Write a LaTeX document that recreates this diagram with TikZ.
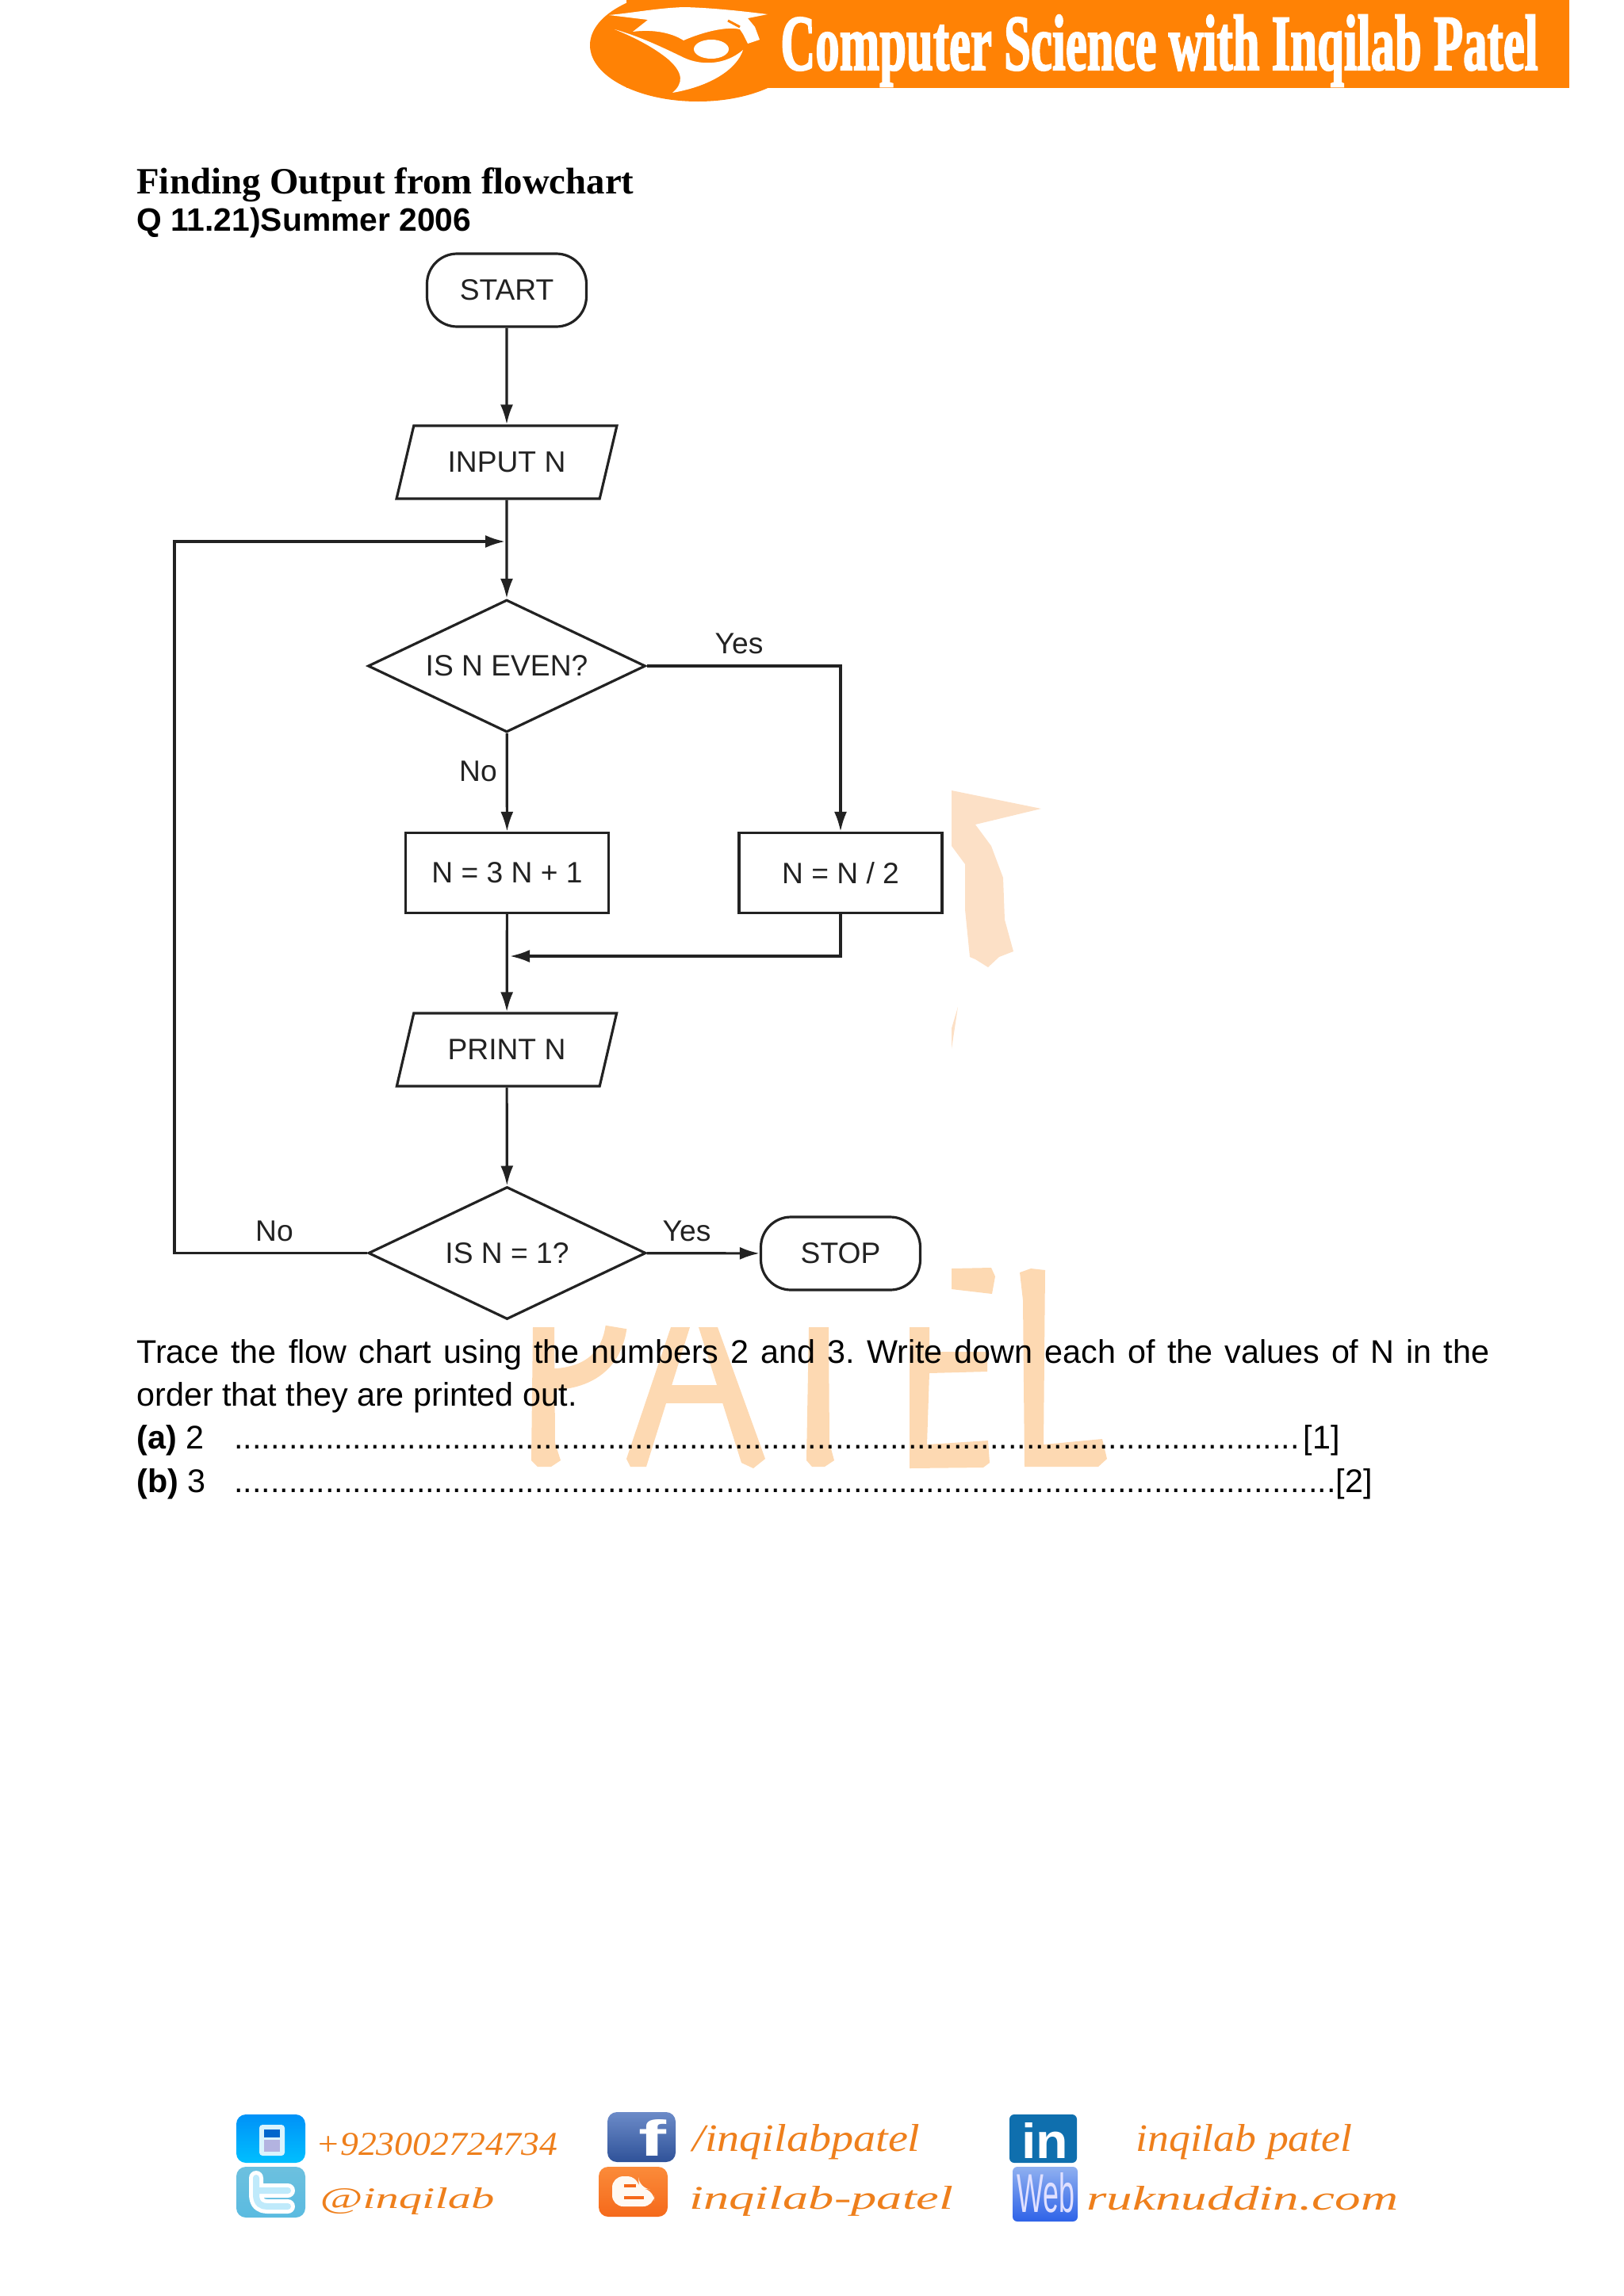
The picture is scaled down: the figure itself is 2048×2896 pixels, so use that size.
\documentclass[tikz,border=0pt]{standalone}
\usepackage{fontspec}
\setmainfont{Liberation Sans}
\newfontfamily\headfont{Liberation Serif}
\newfontfamily\bannerfont[BoldFeatures={FakeBold=2.5}]{Liberation Serif}
\usetikzlibrary{arrows.meta,shapes.geometric}
\definecolor{bannerorange}{HTML}{FF8205}
\definecolor{washorange}{HTML}{FDD9B2}
\definecolor{washpale}{HTML}{FCE0C6}
\definecolor{footorange}{HTML}{EE7F1C}
\definecolor{chartink}{HTML}{222222}
\definecolor{birdtile}{HTML}{5ABBE0}
\definecolor{birdtop}{HTML}{6CC0DF}
\definecolor{booktop}{HTML}{6C8BC8}
\definecolor{bookend}{HTML}{2F5299}
\definecolor{blogtop}{HTML}{FB8B3A}
\definecolor{blogend}{HTML}{F5691A}
\definecolor{linktile}{HTML}{0F6FAE}
\definecolor{webtop}{HTML}{8FB0F0}
\definecolor{webend}{HTML}{2E62E8}
\tikzstyle{chart}=[draw=chartink,line width=1.6pt,text=chartink,font=\fontsize{18.6}{21}\selectfont,inner sep=0pt]
\tikzstyle{terminal}=[chart,rectangle,rounded corners=19pt,minimum width=100.5pt,minimum height=46pt]
\tikzstyle{inout}=[chart,trapezium,trapezium left angle=62,trapezium right angle=118,trapezium stretches=true,minimum width=139.5pt,minimum height=46pt]
\tikzstyle{decision}=[chart,diamond,aspect=2.1,minimum width=175pt,minimum height=83.5pt]
\tikzstyle{process}=[chart,rectangle,minimum width=128pt,minimum height=50.5pt]
\tikzstyle{caption}=[text=chartink,font=\fontsize{18.6}{21}\selectfont,inner sep=0pt]
\tikzstyle{edge}=[draw=chartink,line width=1.6pt,-{Latex[length=12.5pt,width=8pt]}]
\tikzstyle{body}=[anchor=base west,inner sep=0pt,font=\frenchspacing\fontsize{20.65}{25}\selectfont]
\tikzstyle{footlabel}=[anchor=base west,inner sep=0pt,text=footorange,font=\headfont\itshape]
\tikzstyle{tile}=[rounded corners=6pt]

\begin{document}
\begin{tikzpicture}[x=0.5pt,y=-0.5pt]
    \useasboundingbox (0,0) rectangle (2048,2896);

    % Watermark letters behind the text
    \fill[washpale] (1200,997) -- (1313,1020) -- (1230,1040) -- (1250,1067) -- (1265,1107) -- (1267,1160) -- (1278,1200) -- (1260,1207) -- (1246,1220) -- (1230,1210) -- (1223,1207) -- (1217,1147) -- (1217,1090) -- (1200,1067) -- cycle;
    \fill[washpale] (1208,1270) -- (1200,1323) -- (1200,1297) -- cycle;
    \begin{scope}[washorange]
        % P
        \fill (672,1674) -- (699,1674) -- (700,1820) -- (707,1842) -- (695,1850) -- (678,1850) -- (670,1842) -- cycle;
        \draw[line width=13.5pt] (777,1674) .. controls (770,1722) and (735,1740) .. (690,1740);
        % A
        \fill (846,1674) -- (870,1674) -- (815,1850) -- (795,1850) -- (790,1840) -- cycle;
        \fill (881,1674) -- (905,1674) -- (965,1840) -- (950,1852) -- (935,1845) -- cycle;
        \fill (837,1747) rectangle (917,1770);
        % T
        \fill (1020,1674) -- (1045,1674) -- (1046,1820) -- (1052,1842) -- (1040,1850) -- (1024,1850) -- (1017,1842) -- cycle;
        % E
        \fill (1147,1674) -- (1172,1674) -- (1172,1705) -- (1245,1705) -- (1245,1730) -- (1172,1732) -- (1169,1822) -- (1246,1817) -- (1248,1845) -- (1240,1851) -- (1147,1852) -- cycle;
        \fill (1200,1600) -- (1250,1599) -- (1255,1610) -- (1251,1632) -- (1200,1626) -- cycle;
        % L
        \fill (1286,1605) -- (1300,1600) -- (1318,1602) -- (1316,1822) -- (1390,1815) -- (1396,1840) -- (1385,1850) -- (1292,1850) -- (1290,1640) -- cycle;
    \end{scope}

    % Banner with the logo
    \fill[bannerorange] (790,0) rectangle (1979,110.7);
    \fill[bannerorange] (880,57) ellipse (136 and 71);
    \fill[white] (768,19) .. controls (800,16) and (830,10) .. (863,9) .. controls (900,10) and (935,14) .. (968,18) -- (943,23) -- (952,34) -- (958,50) -- (943,55) -- (937,43) -- (933,37) .. controls (917,33) and (887,40) .. (862,51) .. controls (845,40) and (820,37) .. (798,40) -- (817,25) -- cycle;
    \draw[bannerorange,line width=1.5pt] (918,26) -- (933,34);
    \fill[white] (775,37) .. controls (810,47) and (840,62) .. (863,73) .. controls (885,83) and (915,82) .. (937,63) .. controls (930,85) and (900,108) .. (848,117) .. controls (862,105) and (862,92) .. (843,75) .. controls (825,60) and (800,47) .. (775,37) -- cycle;
    \fill[white] (897,62) ellipse (22 and 12);
    \node[inner sep=0pt,text=white,anchor=base west] (banner) at (984,88) {\resizebox{477.5pt}{34.5pt}{\bannerfont\bfseries Computer Science with Inqilab Patel}};

    % Headings
    \node[anchor=base west,inner sep=0pt,font=\headfont\bfseries\fontsize{23.4}{26}\selectfont] (heading) at (172,244) {Finding Output from flowchart};
    \node[anchor=base west,inner sep=0pt,font=\bfseries\fontsize{20.4}{25}\selectfont] (question) at (172,291) {Q 11.21)Summer 2006};

    % First we draw the flowchart boxes
    \node[terminal] (start) at (639,366) {START};
    \node[inout] (input) at (639,583) {INPUT N};
    \node[decision] (even) at (639,840) {IS N EVEN?};
    \node[process] (triple) at (639.5,1101) {N = 3 N + 1};
    \node[process] (halve) at (1060,1101) {N = N / 2};
    \node[inout] (print) at (639,1324) {PRINT N};
    \node[decision] (one) at (639.5,1580.5) {IS N = 1?};
    \node[terminal] (stop) at (1060,1581) {STOP};

    % Free ends of the connectors
    \coordinate (back) at (639,683);
    \coordinate (merge) at (639,1206);
    \coordinate (corner) at (220,1580.5);

    % Connect boxes with edges
    \foreach \source/\dest in {start/input, input/even, even/triple, triple/print, print/one, one/stop}
        \path[edge] (\source) -- (\dest);
    \path[edge] (even) -| (halve);
    \path[edge,shorten >=2pt] (halve) |- (merge);
    \path[edge,shorten >=1pt] (one) -- (corner) |- (back);

    % Labels on the branches
    \foreach \pos/\name/\txt in {{(932,812)/evenyes/Yes}, {(603,973)/evenno/No}, {(866,1553)/oneyes/Yes}, {(346,1553)/oneno/No}}
        \node[caption] (\name) at \pos {\txt};

    % Question text
    \node[body] (trace) at (172,1719) {\makebox[853pt][s]{Trace the flow chart using the numbers 2 and 3. Write down each of the values of N in the}};
    \node[body] (order) at (172,1773) {order that they are printed out.};
    \node[body] (parta) at (172,1827) {\textbf{(a)} 2};
    \node[body] (dotsa) at (295,1827) {\foreach \d in {1,...,117}{.}\hspace{2.5pt}[1]};
    \node[body] (partb) at (172,1882) {\textbf{(b)} 3};
    \node[body] (dotsb) at (295,1882) {\foreach \d in {1,...,121}{.}[2]};

    % Footer icons
    \shade[tile,top color=black!5!cyan!60!blue,bottom color=cyan!75!blue] (298,2667) rectangle (385,2728);
    \fill[white!85!cyan,rounded corners=2pt] (327,2680) rectangle (359,2719);
    \fill[blue!50!cyan!80!black] (333,2686) rectangle (353,2696);
    \fill[cyan!20!blue!30] (333,2699) rectangle (353,2714);
    \shade[tile,top color=birdtop,bottom color=birdtile] (298,2733) rectangle (385,2797);
    \draw[white,line width=9pt,line cap=round,line join=round] (323,2747) -- (323,2768) .. controls (323,2780) and (330,2783) .. (337,2783) -- (363,2783) (327,2763) -- (363,2763);
    \draw[cyan!25!white,line width=4pt,line cap=round,line join=round] (323,2747) -- (323,2768) .. controls (323,2780) and (330,2783) .. (337,2783) -- (363,2783) (327,2763) -- (363,2763);
    \shade[tile,top color=booktop,bottom color=bookend] (766,2664) rectangle (852,2727);
    \node[inner sep=0pt,text=white,anchor=base west] (fbmark) at (805,2719) {\resizebox{17.5pt}{23pt}{\bfseries f}};
    \shade[tile,top color=blogtop,bottom color=blogend] (755,2733) rectangle (842,2796);
    \fill[white!95!orange,rounded corners=7pt] (772,2745) -- (805,2745) -- (806,2760) -- (825,2762) -- (825,2783) -- (772,2783) -- cycle;
    \draw[blogend,line width=2pt] (787,2757) -- (802,2757) (787,2772) -- (812,2772);
    \fill[linktile,rounded corners=3pt] (1273,2667) rectangle (1358,2728);
    \node[inner sep=0pt,text=white,anchor=base west] (inmark) at (1288,2722) {\resizebox{29.5pt}{22.5pt}{\bfseries in}};
    \shade[rounded corners=3pt,top color=webtop,bottom color=webend] (1277,2733) rectangle (1359,2802);
    \node[inner sep=0pt,text=blue!12!white,anchor=base west] (webmark) at (1282,2790) {\resizebox{36.5pt}{25pt}{Web}};

    % Footer texts
    \foreach \pos/\name/\w/\h/\txt in {{(398,2718)/phone/152.5pt/14pt/{+923002724734}}, {(403,2785)/twitter/110pt/13pt/{@inqilab}}, {(873,2713)/facebook/143.5pt/17pt/{/inqilabpatel}}, {(869,2786)/blogger/166.5pt/14.5pt/{inqilab-patel}}, {(1432,2713)/linkedin/136.5pt/17pt/{inqilab patel}}, {(1370,2787)/website/196.5pt/15pt/{ruknuddin.com}}}
        \node[footlabel] (\name) at \pos {\resizebox{\w}{\h}{\headfont\itshape\txt}};
\end{tikzpicture}
\end{document}
